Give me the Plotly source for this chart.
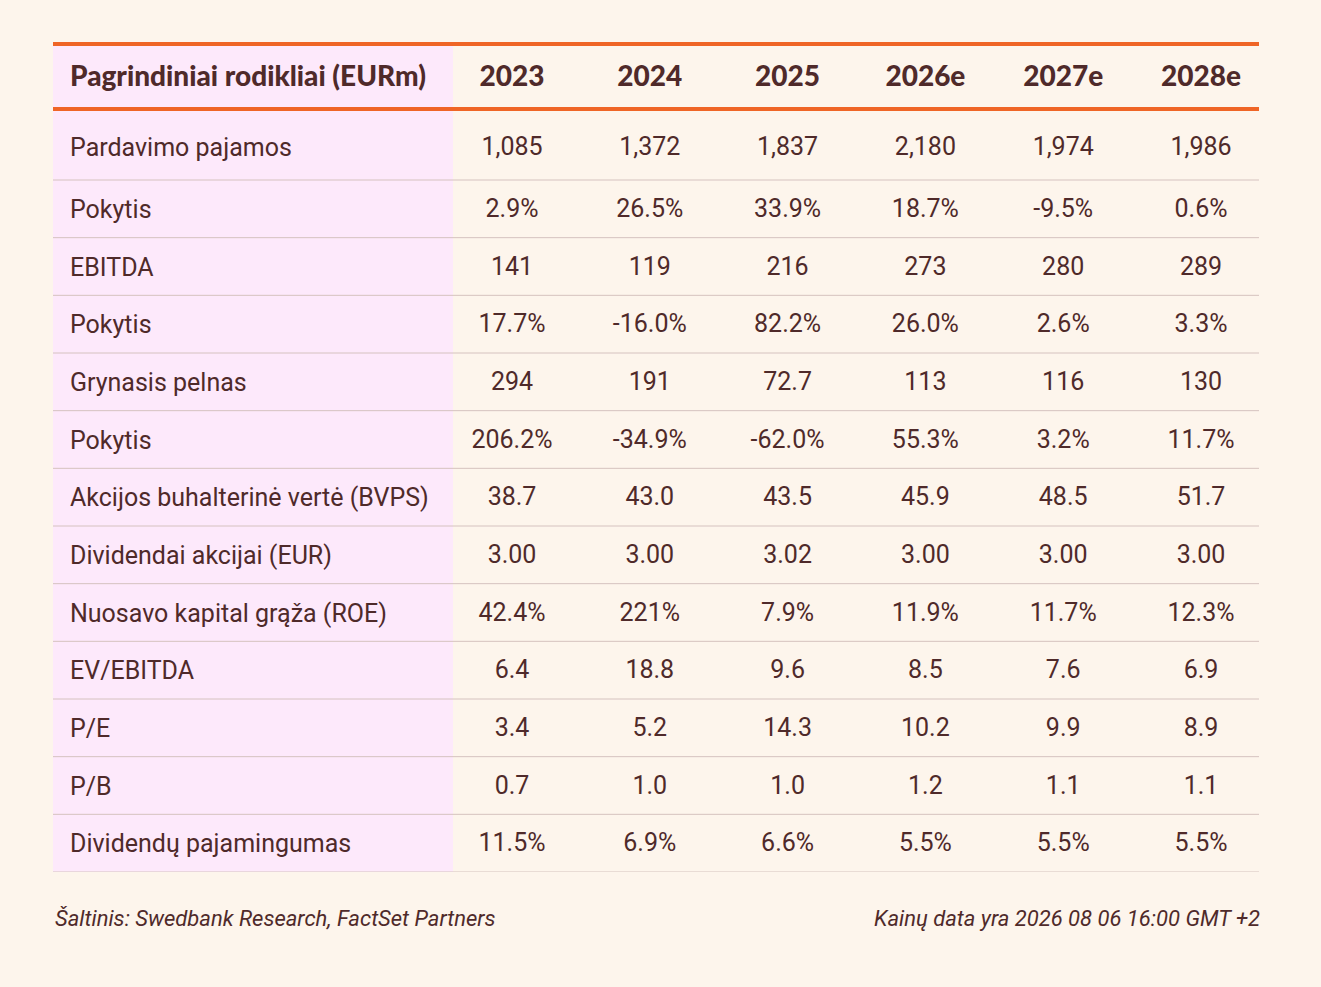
import plotly.graph_objects as go

# ---------------- data ----------------
title_label = "Pagrindiniai rodikliai (EURm)"
years = ["2023", "2024", "2025", "2026e", "2027e", "2028e"]
metrics = [
    "Pardavimo pajamos",
    "Pokytis",
    "EBITDA",
    "Pokytis",
    "Grynasis pelnas",
    "Pokytis",
    "Akcijos buhalterinė vertė (BVPS)",
    "Dividendai akcijai (EUR)",
    "Nuosavo kapital grąža (ROE)",
    "EV/EBITDA",
    "P/E",
    "P/B",
    "Dividendų pajamingumas",
]
v2023 = ["1,085", "2.9%", "141", "17.7%", "294", "206.2%", "38.7", "3.00", "42.4%", "6.4", "3.4", "0.7", "11.5%"]
v2024 = ["1,372", "26.5%", "119", "-16.0%", "191", "-34.9%", "43.0", "3.00", "221%", "18.8", "5.2", "1.0", "6.9%"]
v2025 = ["1,837", "33.9%", "216", "82.2%", "72.7", "-62.0%", "43.5", "3.02", "7.9%", "9.6", "14.3", "1.0", "6.6%"]
v2026 = ["2,180", "18.7%", "273", "26.0%", "113", "55.3%", "45.9", "3.00", "11.9%", "8.5", "10.2", "1.2", "5.5%"]
v2027 = ["1,974", "-9.5%", "280", "2.6%", "116", "3.2%", "48.5", "3.00", "11.7%", "7.6", "9.9", "1.1", "5.5%"]
v2028 = ["1,986", "0.6%", "289", "3.3%", "130", "11.7%", "51.7", "3.00", "12.3%", "6.9", "8.9", "1.1", "5.5%"]
columns = [v2023, v2024, v2025, v2026, v2027, v2028]
source_note = "Šaltinis: Swedbank Research, FactSet Partners"
date_note = "Kainų data yra 2026 08 06 16:00 GMT +2"

# ---------------- style / layout ----------------
W, H = 1321, 987
LEFT, RIGHT = 53, 1259
TOP_LINE, HEAD_LINE = 44, 109
FIRST_ROW_TOP, FIRST_ROW_BOTTOM, BOTTOM = 111, 180, 872
BG = "#FDF5EC"
PINK = "#FDE9FB"
ORANGE = "#EF6526"
TEXT = "#4F2A2A"
SEP = "#D5C2BF"
LABEL_X = 70
COL0_X, COL_STEP = 512, 137.8
TEXT_SHIFT = 3

n = len(metrics)
row_h = (BOTTOM - FIRST_ROW_BOTTOM) / (n - 1)
bounds = [FIRST_ROW_TOP, FIRST_ROW_BOTTOM] + [FIRST_ROW_BOTTOM + row_h * k for k in range(1, n)]
centers = [(bounds[i] + bounds[i + 1]) / 2 + TEXT_SHIFT for i in range(n)]
centers[0] += 1.5
head_y = (TOP_LINE + HEAD_LINE) / 2 + 2
col_x = [COL0_X + COL_STEP * j for j in range(len(years))]

fig = go.Figure()

body_font = dict(family="Roboto", size=25, color=TEXT)
head_font = dict(family="Lato", size=28, color=TEXT, weight=900)

# row labels
fig.add_trace(go.Scatter(
    x=[LABEL_X] * n, y=centers, text=metrics, mode="text",
    textposition="middle right", textfont=body_font,
    hoverinfo="skip", showlegend=False, cliponaxis=False))

# header
fig.add_trace(go.Scatter(
    x=[LABEL_X], y=[head_y], text=[title_label], mode="text",
    textposition="middle right", textfont=head_font,
    hoverinfo="skip", showlegend=False, cliponaxis=False))
fig.add_trace(go.Scatter(
    x=col_x, y=[head_y] * len(years), text=years, mode="text",
    textposition="middle center", textfont=head_font,
    hoverinfo="skip", showlegend=False, cliponaxis=False))

# value columns
for j, vals in enumerate(columns):
    fig.add_trace(go.Scatter(
        x=[col_x[j]] * n, y=[c - 1 for c in centers], text=vals, mode="text",
        textposition="middle center", textfont=body_font,
        hoverinfo="skip", showlegend=False, cliponaxis=False))

shapes = [
    dict(type="rect", xref="x", yref="y", x0=LEFT, x1=453, y0=TOP_LINE, y1=BOTTOM,
         fillcolor=PINK, line=dict(width=0), layer="below"),
]
for b in bounds[1:]:
    shapes.append(dict(type="line", xref="x", yref="y", x0=LEFT, x1=RIGHT, y0=b, y1=b,
                       line=dict(color=SEP, width=1), layer="below"))
for b in (TOP_LINE, HEAD_LINE):
    shapes.append(dict(type="line", xref="x", yref="y", x0=LEFT, x1=RIGHT, y0=b, y1=b,
                       line=dict(color=ORANGE, width=4), layer="below"))

plot_h = BOTTOM - 42
foot_y = (BOTTOM - 918) / plot_h
foot_font = dict(family="Roboto", size=22, color=TEXT, style="italic")
annotations = [
    dict(text=source_note, xref="paper", yref="paper", x=0, y=foot_y,
         xanchor="left", yanchor="middle", showarrow=False, font=foot_font),
    dict(text=date_note, xref="paper", yref="paper", x=(1262 - LEFT) / (RIGHT - LEFT), y=foot_y,
         xanchor="right", yanchor="middle", showarrow=False, font=foot_font),
]

fig.update_layout(
    width=W, height=H, autosize=False,
    margin=dict(l=LEFT, r=W - RIGHT, t=42, b=H - BOTTOM, pad=0),
    paper_bgcolor=BG, plot_bgcolor=BG,
    xaxis=dict(range=[LEFT, RIGHT], visible=False, fixedrange=True),
    yaxis=dict(range=[BOTTOM, 42], visible=False, fixedrange=True),
    shapes=shapes, annotations=annotations,
    showlegend=False,
)

fig.write_html(
    "out.html",
    config={"displayModeBar": False},
    post_script="document.body.style.margin='0';document.body.style.background='" + BG + "';",
)
